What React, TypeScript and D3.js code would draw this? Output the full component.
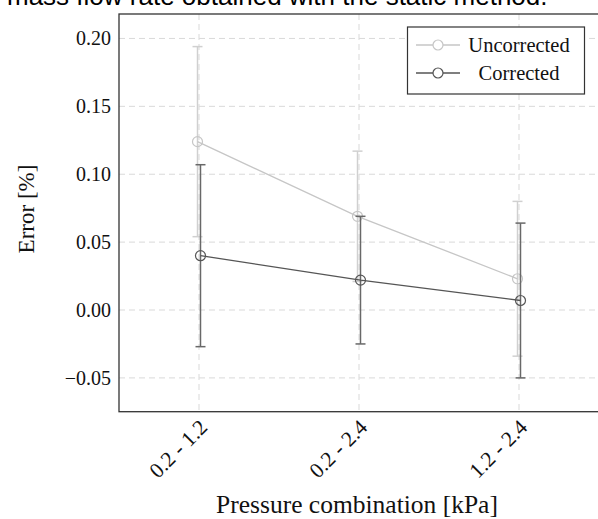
import React from "react";
import * as d3 from "d3";

const categories = ["0.2 - 1.2", "0.2 - 2.4", "1.2 - 2.4"];
const uncorrected = [0.124, 0.069, 0.023];
const uncorrectedErr = [0.07, 0.048, 0.057];
const corrected = [0.04, 0.022, 0.007];
const correctedErr = [0.067, 0.047, 0.057];
const yTicks = [-0.05, 0, 0.05, 0.1, 0.15, 0.2];
const seriesNames = ["Uncorrected", "Corrected"];

const W = 598;
const H = 519;
const left = 119;
const right = 599;
const top = 14;
const bottom = 411.7;

const serif = "'Liberation Serif', 'Times New Roman', serif";

export default function App() {
  const x = d3.scaleLinear().domain([-0.5, 2.5]).range([left, right]);
  const y = d3.scaleLinear().domain([-0.0749, 0.218]).range([bottom, top]);
  const fmt = (v: number) => (v < 0 ? "\u2212" : "") + d3.format(".2f")(Math.abs(v));

  const series = [
    { name: seriesNames[0], vals: uncorrected, errs: uncorrectedErr, color: "#c6c6c6", barColor: "#d0d0d0", dx: -1.5 },
    { name: seriesNames[1], vals: corrected, errs: correctedErr, color: "#555555", barColor: "#686868", dx: 1.5 },
  ];

  return (
    <svg width={W} height={H} style={{ position: "absolute", left: 0, top: 0, background: "#fff" }}>
      <text x={7} y={4.5} fontFamily="'Liberation Sans', Arial, sans-serif" fontSize={26} fill="#000">
        mass flow rate obtained with the static method.
      </text>
      {/* grid */}
      {yTicks.map((t) => (
        <line key={"gy" + t} x1={left} x2={right} y1={y(t)} y2={y(t)} stroke="#d9d9d9" strokeWidth={1} strokeDasharray="6,4" />
      ))}
      {categories.map((c, i) => (
        <line key={"gx" + c} x1={x(i)} x2={x(i)} y1={top} y2={bottom} stroke="#d9d9d9" strokeWidth={1} strokeDasharray="6,4" />
      ))}
      {/* series */}
      {series.map((s) => (
        <g key={s.name}>
          {s.vals.map((v, i) => {
            const cx = x(i) + s.dx;
            return (
              <g key={i}>
                <line x1={cx} x2={cx} y1={y(v + s.errs[i])} y2={y(v - s.errs[i])} stroke={s.barColor} strokeWidth={1.5} />
                <line x1={cx - 5} x2={cx + 5} y1={y(v + s.errs[i])} y2={y(v + s.errs[i])} stroke={s.barColor} strokeWidth={1.5} />
                <line x1={cx - 5} x2={cx + 5} y1={y(v - s.errs[i])} y2={y(v - s.errs[i])} stroke={s.barColor} strokeWidth={1.5} />
              </g>
            );
          })}
          <path
            d={d3.line<number>().x((_, i) => x(i) + s.dx).y((d) => y(d))(s.vals) || ""}
            fill="none"
            stroke={s.color}
            strokeWidth={1.3}
          />
          {s.vals.map((v, i) => (
            <circle key={"m" + i} cx={x(i) + s.dx} cy={y(v)} r={5} fill="none" stroke={s.color} strokeWidth={1.2} />
          ))}
        </g>
      ))}
      {/* frame */}
      <rect x={left} y={top} width={right - left} height={bottom - top} fill="none" stroke="#333" strokeWidth={1.3} />
      {/* y ticks */}
      {yTicks.map((t) => (
        <text key={"ty" + t} x={111} y={y(t)} dy="0.35em" textAnchor="end" fontFamily={serif} fontSize={20} fill="#111">
          {fmt(t)}
        </text>
      ))}
      {/* x ticks */}
      {categories.map((c, i) => (
        <text
          key={"tx" + c}
          transform={`translate(${x(i) - 1},${418}) rotate(-45)`}
          dy="0.7em"
          textAnchor="end"
          fontFamily={serif}
          fontSize={21.5}
          fill="#111"
        >
          {c}
        </text>
      ))}
      {/* axis labels */}
      <text transform={`translate(34,209) rotate(-90)`} textAnchor="middle" fontFamily={serif} fontSize={23} fill="#111">
        Error [%]
      </text>
      <text x={357} y={513} textAnchor="middle" fontFamily={serif} fontSize={25.5} fill="#111">
        Pressure combination [kPa]
      </text>
      {/* legend */}
      <rect x={407.5} y={27} width={177} height={67} fill="#fff" stroke="#333" strokeWidth={1.2} />
      {series.map((s, i) => {
        const ly = 45 + i * 28;
        return (
          <g key={"lg" + s.name}>
            <line x1={416} x2={460} y1={ly} y2={ly} stroke={s.color} strokeWidth={1.3} />
            <circle cx={438} cy={ly} r={5} fill="#fff" stroke={s.color} strokeWidth={1.2} />
            <text x={519} y={ly} dy="0.35em" textAnchor="middle" fontFamily={serif} fontSize={20.5} fill="#111">
              {s.name}
            </text>
          </g>
        );
      })}
    </svg>
  );
}
